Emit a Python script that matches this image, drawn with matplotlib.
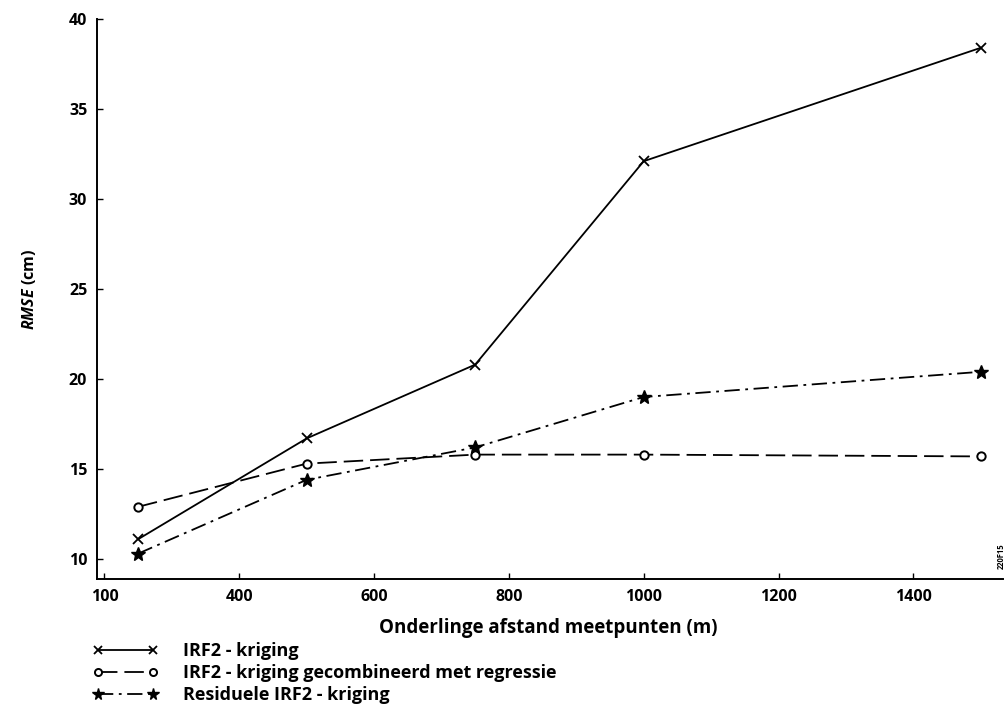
import matplotlib
matplotlib.use("Agg")
import matplotlib.pyplot as plt

plt.rcParams["font.family"] = ["Open Sans", "DejaVu Sans"]
plt.rcParams["font.weight"] = "bold"
plt.rcParams["mathtext.fontset"] = "custom"
plt.rcParams["mathtext.it"] = "Open Sans:italic:bold"
plt.rcParams["mathtext.rm"] = "Open Sans:bold"
plt.rcParams["lines.scale_dashes"] = False

# onderlinge afstand (m) en RMSE (cm) per methode
afstand = [250, 500, 750, 1000, 1500]
irf2 = [11.1, 16.7, 20.8, 32.1, 38.4]
irf2_regressie = [12.9, 15.3, 15.8, 15.8, 15.7]
residueel = [10.3, 14.4, 16.2, 19.0, 20.4]

x_ticks = [200, 400, 600, 800, 1000, 1200, 1400]
x_labels = ["100", "400", "600", "800", "1000", "1200", "1400"]
y_ticks = [10, 15, 20, 25, 30, 35, 40]

labels = ["IRF2 - kriging",
          "IRF2 - kriging gecombineerd met regressie",
          "Residuele IRF2 - kriging"]

fig = plt.figure(figsize=(10.06, 7.14), dpi=100)
ax = fig.add_axes([97 / 1006, 1 - 579 / 714, (1003 - 97) / 1006, (579 - 19) / 714])

lw = 1.3
l1, = ax.plot(afstand, irf2, color="black", lw=lw, marker="x", ms=7, mew=1.3)
l2, = ax.plot(afstand, irf2_regressie, color="black", lw=lw, dashes=(14, 5),
              marker="o", ms=6, mfc="white", mew=1.4)
l3, = ax.plot(afstand, residueel, color="black", lw=lw, dashes=(11, 4, 2, 4),
              marker="*", ms=10)

ax.set_xlim(189, 1533)
ax.set_ylim(8.89, 40)
ax.set_xticks(x_ticks)
ax.set_xticklabels(x_labels)
ax.set_yticks(y_ticks)

for s in ["top", "right"]:
    ax.spines[s].set_visible(False)
for s in ["left", "bottom"]:
    ax.spines[s].set_linewidth(1.4)
ax.tick_params(direction="in", length=4, width=1, labelsize=11.5, pad=7)
for t in ax.get_xticklabels() + ax.get_yticklabels():
    t.set_fontweight("bold")

fig.text(29 / 1006, 1 - 289 / 714, r"$\mathit{RMSE}$ (cm)", rotation=90,
         ha="center", va="center", fontsize=11.5)
fig.text(548 / 1006, 1 - 628 / 714, "Onderlinge afstand meetpunten (m)",
         ha="center", va="center", fontsize=13.5)

fig.text(1001 / 1006, 1 - 556 / 714, "220F15", rotation=90,
         ha="center", va="center", fontsize=5.5)

leg = ax.legend([l1, l2, l3], labels, loc="upper left",
                bbox_to_anchor=(93 / 1006, 1 - 642 / 714),
                bbox_transform=fig.transFigure, frameon=False,
                fontsize=13, handlelength=3.6, handletextpad=1.4,
                labelspacing=0.22, borderpad=0, borderaxespad=0, numpoints=2,
                markerscale=0.85)

fig.savefig("out.png", dpi=100)
